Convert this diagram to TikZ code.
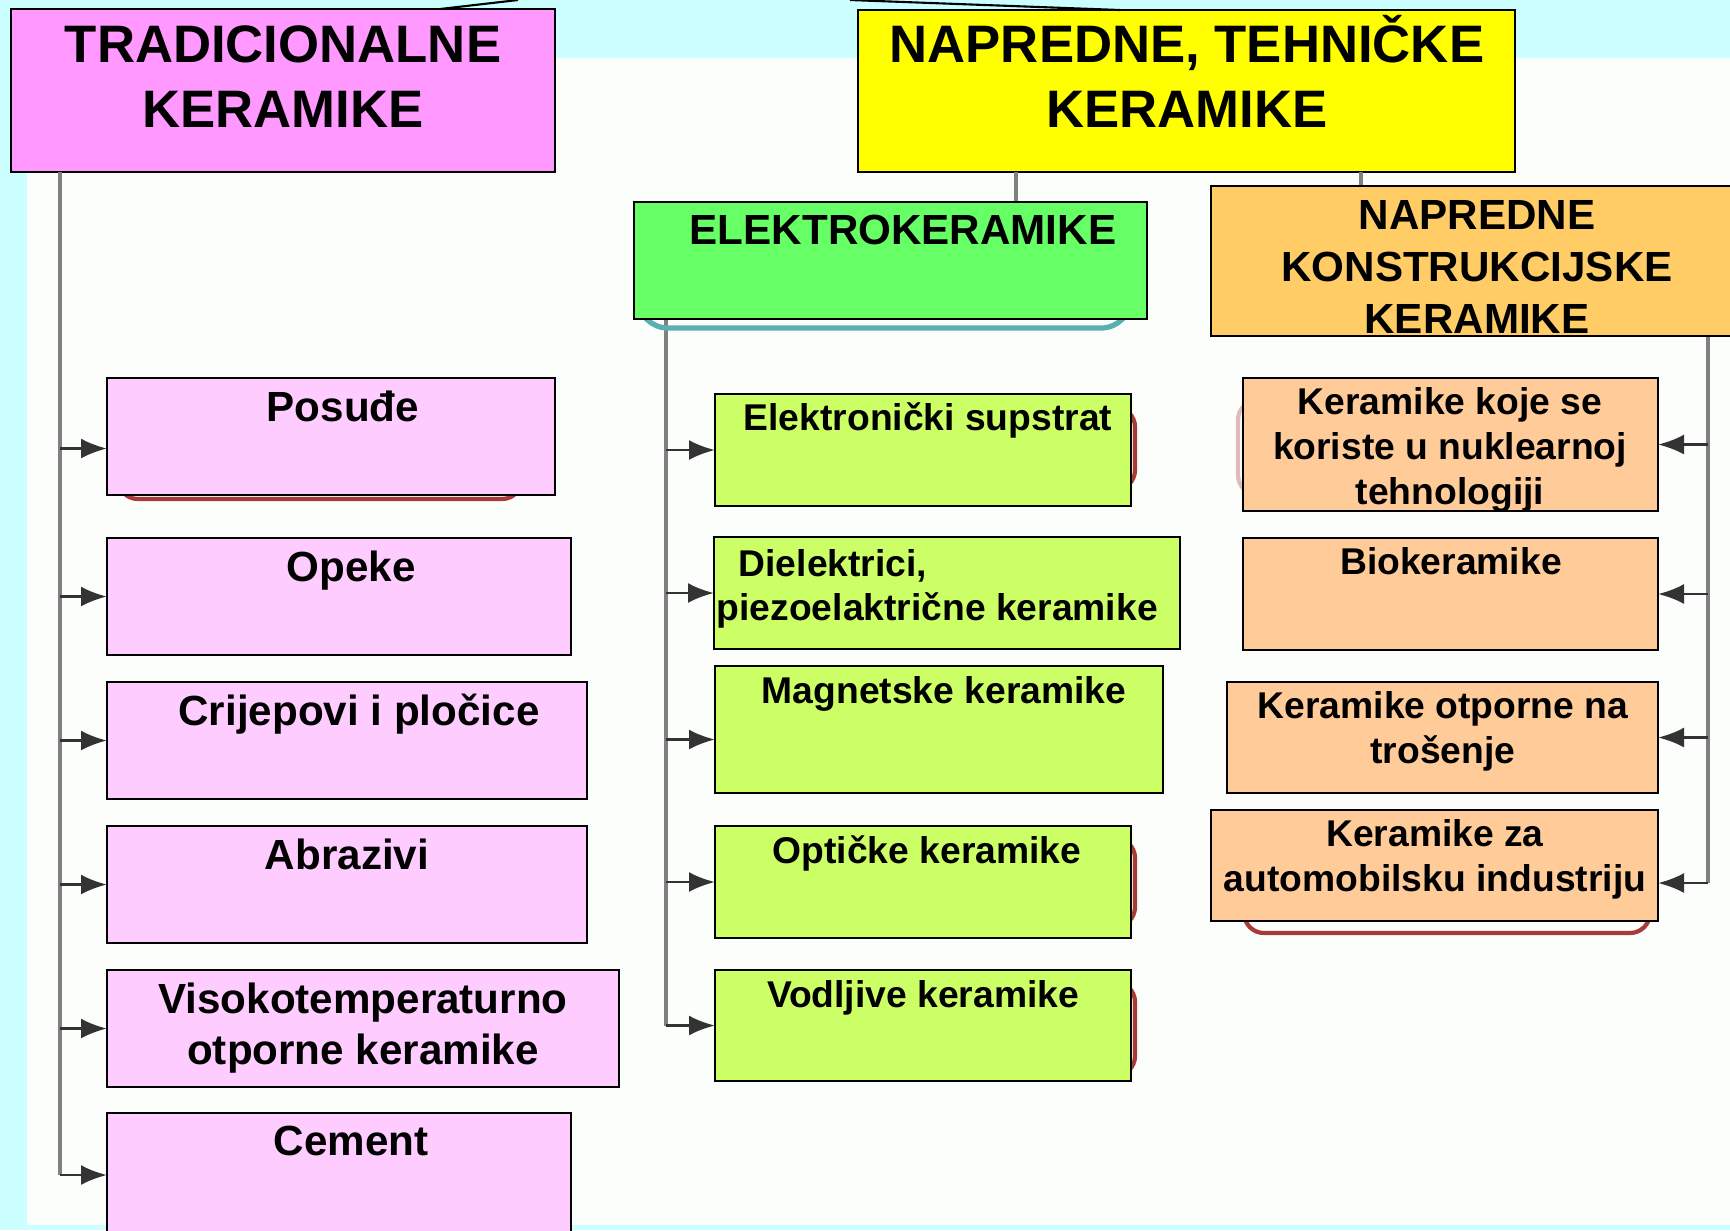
\documentclass[tikz,border=0pt]{standalone}
\usepackage{fontspec}
\setmainfont{Liberation Sans}
\usetikzlibrary{arrows.meta,fit}

\definecolor{bgcyan}{HTML}{CCFFFF}
\definecolor{paper}{HTML}{FCFEFC}
\definecolor{tradfill}{HTML}{FF99FF}
\definecolor{tradsub}{HTML}{FFCCFF}
\definecolor{techfill}{HTML}{FFFF00}
\definecolor{elfill}{HTML}{66FF66}
\definecolor{elsub}{HTML}{CCFF66}
\definecolor{konfill}{HTML}{FFCC66}
\definecolor{konsub}{HTML}{FFCC99}
\definecolor{linegray}{HTML}{808080}
\definecolor{shadred}{HTML}{A83A3A}
\definecolor{shadteal}{HTML}{5AAFB0}

\newcommand{\bigtxt}{\fontsize{15pt}{18.5pt}\selectfont\bfseries}
\newcommand{\midtxt}{\fontsize{12pt}{14.5pt}\selectfont\bfseries}
\newcommand{\smalltxt}{\fontsize{10.6pt}{12.8pt}\selectfont\bfseries}
\newcommand{\topstrut}{\rule{0pt}{0.95em}}

\begin{document}
\begin{tikzpicture}[x=0.1mm,y=-0.1mm,>={Latex[length=2.6mm,width=2mm]},
  box/.style={draw=black,line width=0.7pt,inner sep=0pt,outer sep=0pt},
  txt/.style={anchor=north,inner sep=0pt,align=center},
  trunk/.style={draw=linegray,line width=0.9pt},
  stub/.style={->,draw=black!80,line width=0.8pt},
  shade/.style={rounded corners=2mm,line width=1.2pt}]
\useasboundingbox (0,0) rectangle (1730,1230);
\clip (0,0) rectangle (1730,1230);
\fill[bgcyan] (0,0) rectangle (1730,1230);
\fill[paper] (27,58) rectangle (1730,1225);

\coordinate (ltrunk) at (60,0);
\coordinate (gtrunk) at (666,0);
\coordinate (rtrunk) at (1708,0);
\coordinate (gdrop) at (1016,0);
\coordinate (kdrop) at (1361,0);
\coordinate (tl) at (440,0);
\coordinate (tr) at (1120,0);
\coordinate (rootl) at (518,0);
\coordinate (rootr) at (850,0);

% main groups
\node[box,fill=tradfill,fit={(11,9) (555,172)}] (tradic) {};
\node[box,fill=techfill,fit={(858,10) (1515,172)}] (napredne) {};

% connectors
\draw[black,line width=0.6pt] (tradic.north -| tl) -- (rootl);
\draw[black,line width=0.6pt] (rootr) -- (napredne.north -| tr);
\draw[trunk] (napredne.south -| gdrop) -- ++(0,30);
\draw[trunk] (napredne.south -| kdrop) -- ++(0,14);
\draw[trunk] (tradic.south -| ltrunk) -- (60,1175);
\draw[trunk] (666,319) -- (666,1026);
\draw[trunk] (1708,336) -- (1708,883);

% shadows peeking out behind some boxes
\draw[shade,shadred] (118,420) rectangle (522,499);
\draw[shade,shadred] (800,407) rectangle (1135,490);
\draw[shade,shadred] (800,838) rectangle (1135,927);
\draw[shade,shadred] (800,982) rectangle (1135,1076);
\draw[shade,shadred] (1244,850) rectangle (1650,933);
\draw[shade,shadred!35] (1238,400) rectangle (1600,495);
\draw[shadteal,rounded corners=3mm,line width=1.5pt] (638,240) rectangle (1131,328);

\node[box,fill=elfill,fit={(634,202) (1147,319)}] (elektro) {};
\node[box,fill=konfill,fit={(1211,186) (1745,336)}] (konstr) {};

% tradicionalne
\node[box,fill=tradsub,fit={(107,378) (555,495)}] (posude) {};
\node[box,fill=tradsub,fit={(107,538) (571,655)}] (opeke) {};
\node[box,fill=tradsub,fit={(107,682) (587,799)}] (crijep) {};
\node[box,fill=tradsub,fit={(107,826) (587,943)}] (abraz) {};
\node[box,fill=tradsub,fit={(107,970) (619,1087)}] (visoko) {};
\node[box,fill=tradsub,fit={(107,1113) (571,1237)}] (cement) {};

% elektrokeramike
\node[box,fill=elsub,fit={(715,394) (1131,506)}] (supstrat) {};
\node[box,fill=elsub,fit={(714,537) (1180,649)}] (dielek) {};
\node[box,fill=elsub,fit={(715,666) (1163,793)}] (magnet) {};
\node[box,fill=elsub,fit={(715,826) (1131,938)}] (opticke) {};
\node[box,fill=elsub,fit={(715,970) (1131,1081)}] (vodljive) {};

% konstrukcijske
\node[box,fill=konsub,fit={(1243,378) (1658,511)}] (nukl) {};
\node[box,fill=konsub,fit={(1243,538) (1658,650)}] (bio) {};
\node[box,fill=konsub,fit={(1227,682) (1658,793)}] (trosenje) {};
\node[box,fill=konsub,fit={(1211,810) (1658,921)}] (automob) {};

% arrows
\draw[stub] ([yshift=-1.2mm]posude.west -| ltrunk) -- ([yshift=-1.2mm]posude.west);
\foreach \b in {opeke,crijep,abraz,visoko,cement}
  \draw[stub] (ltrunk |- \b.west) -- (\b.west);
\draw[stub] ([yshift=-1mm]magnet.west -| gtrunk) -- ([yshift=-1mm]magnet.west);
\foreach \b in {supstrat,dielek,opticke,vodljive}
  \draw[stub] (gtrunk |- \b.west) -- (\b.west);
\draw[stub] ([yshift=-1.75mm]automob.east -| rtrunk) -- ([yshift=-1.75mm]automob.east);
\foreach \b in {nukl,bio,trosenje}
  \draw[stub] (rtrunk |- \b.east) -- (\b.east);

% texts
\node[txt,font=\bigtxt] (tradic-t) at (283,12) {\topstrut TRADICIONALNE\\KERAMIKE};
\node[txt,font=\bigtxt] (napredne-t) at (1187,12) {\topstrut NAPREDNE, TEHNIČKE\\KERAMIKE};
\node[txt,font=\midtxt] (elektro-t) at (903,204) {\topstrut ELEKTROKERAMIKE};
\node[txt,font=\fontsize{12pt}{14.8pt}\selectfont\bfseries] (konstr-t) at (1477,189)
  {\topstrut NAPREDNE\\KONSTRUKCIJSKE\\KERAMIKE};

\node[txt,font=\midtxt] (posude-t) at (343,381) {\topstrut Posuđe};
\node[txt,font=\midtxt] (opeke-t) at (351,541) {\topstrut Opeke};
\node[txt,font=\midtxt] (crijep-t) at (359,685) {\topstrut Crijepovi i pločice};
\node[txt,font=\midtxt] (abraz-t) at (347,829) {\topstrut Abrazivi};
\node[txt,font=\midtxt] (visoko-t) at (363,973) {\topstrut Visokotemperaturno\\otporne keramike};
\node[txt,font=\midtxt] (cement-t) at (351,1115) {\topstrut Cement};

\node[txt,font=\smalltxt] (supstrat-t) at (928,394) {\topstrut Elektronički supstrat};
\node[txt,anchor=north west,align=left,font=\fontsize{10.6pt}{12.6pt}\selectfont\bfseries]
  (dielek-t) at (716,540) {\topstrut\hspace*{2.2mm}Dielektrici,\\piezoelaktrične keramike};
\node[txt,font=\smalltxt] (magnet-t) at (944,667) {\topstrut Magnetske keramike};
\node[txt,font=\smalltxt] (opticke-t) at (927,827) {\topstrut Optičke keramike};
\node[txt,font=\smalltxt] (vodljive-t) at (923,971) {\topstrut Vodljive keramike};

\node[txt,font=\smalltxt] (nukl-t) at (1450,378) {\topstrut Keramike koje se\\koriste u nuklearnoj\\tehnologiji};
\node[txt,font=\smalltxt] (bio-t) at (1451,538) {\topstrut Biokeramike};
\node[txt,font=\smalltxt] (trosenje-t) at (1443,682) {\topstrut Keramike otporne na\\trošenje};
\node[txt,font=\smalltxt] (automob-t) at (1435,810) {\topstrut Keramike za\\automobilsku industriju};
\end{tikzpicture}
\end{document}
